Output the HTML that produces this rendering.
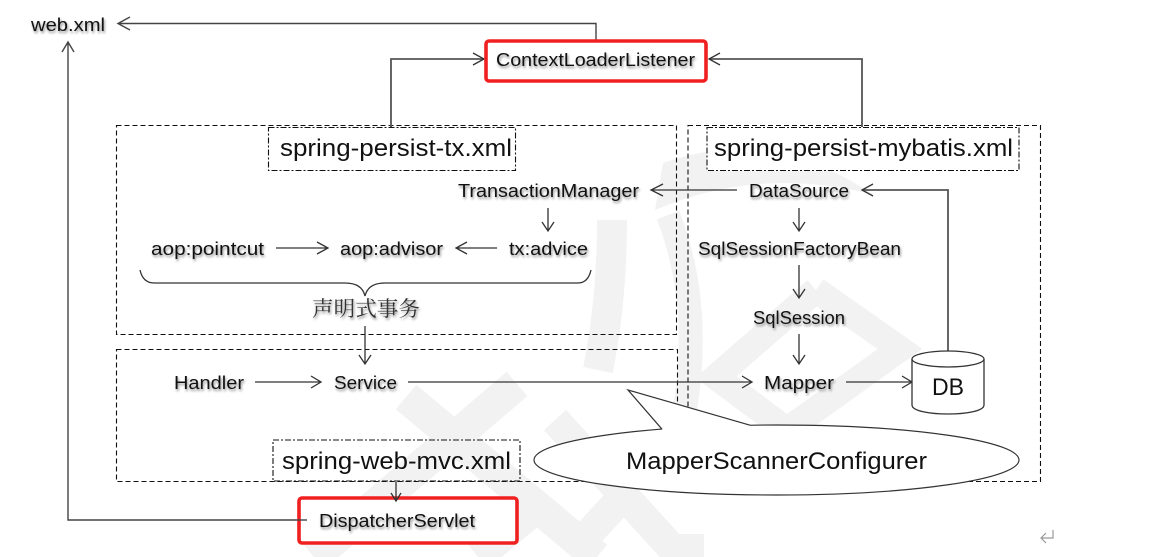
<!DOCTYPE html>
<html><head><meta charset="utf-8"><style>
html,body{margin:0;padding:0;background:#fff;width:1172px;height:557px;overflow:hidden}
svg{display:block}
text{font-family:"Liberation Sans","Noto Sans CJK SC",sans-serif;fill:#111}
.s text{filter:drop-shadow(1px 2px 1.2px rgba(0,0,0,.45))}
.l{fill:none;stroke:#444;stroke-width:1.4}
.g{fill:none;stroke:#555;stroke-width:1.8}
.a{fill:none;stroke:#333;stroke-width:1.3}
.d{fill:none;stroke:#111;stroke-width:1.1;stroke-dasharray:5 3}
.dd{stroke:#111;stroke-width:1.1;stroke-dasharray:6 2 2 2}
.r{fill:#fff;stroke:#f02020;stroke-width:3.6}
.w{fill:none;stroke:#f2f2f2}
</style></head><body>
<svg width="1172" height="557" viewBox="0 0 1172 557" xmlns="http://www.w3.org/2000/svg">
<!-- watermark -->
<path d="M663 163Q770 125 874 195Q760 165 655 210Z" fill="#f2f2f2"/>
<g class="w">
<path d="M816 290L900 349L787 430L716 377L816 290" stroke-width="26"/>
<path d="M668 215Q705 310 682 425" stroke-width="24"/>
<path d="M612 220Q612 300 598 370" stroke-width="30"/>
<path d="M406 397L597 557M517 384L314 557" stroke-width="32"/>
<path d="M555 420L680 557M547 500L478 557" stroke-width="30"/>
<path d="M629 490L580 543" stroke-width="30"/>
<path d="M689 534L689 557" stroke-width="30"/>
</g>
<!-- dashed containers -->
<rect class="d" x="116.5" y="125.5" width="560" height="209"/>
<rect class="d" x="116.5" y="349.5" width="561" height="132"/>
<rect class="d" x="688" y="125.5" width="352.500" height="356"/>
<!-- connectors -->
<path class="l" d="M596 40V23.500H118M130 17L118 23.500L130 30"/>
<path class="g" d="M391 127V59H484"/><path class="a" d="M473 53L484 59L473 65"/>
<path class="g" d="M862 127V59H709"/><path class="a" d="M720 53L709 59L720 65"/>
<path class="l" d="M68 43V520H297M62 52L68 42L74 52"/>
<path class="a" d="M651 190H737M663 184L651 190L663 196"/>
<path class="a" d="M548 208V231M542 222L548 231L554 222"/>
<path class="a" d="M799 208V231M793 222L799 231L805 222"/>
<path class="a" d="M799 265V298M793 289L799 298L805 289"/>
<path class="a" d="M799 334V364M793 355L799 364L805 355"/>
<path class="a" d="M276 248H328M317 242L328 248L317 254"/>
<path class="a" d="M497 248H456M467 242L456 248L467 254"/>
<path class="a" d="M365 326V364M359 355L365 364L371 355"/>
<path class="a" d="M255 382H321M311 376L321 382L311 388"/>
<path class="a" d="M408 382H752M742 376L752 382L742 388"/>
<path class="a" d="M846 382H912M902 376L912 382L902 388"/>
<path class="g" d="M948 351V190H862"/><path class="a" d="M873 184L862 190L873 196"/>
<!-- brace -->
<path class="a" d="M140 270Q143 283 154 283H345Q362 283 365 296Q368 283 385 283H578Q588 283 591 270"/>
<!-- red boxes -->
<rect class="r" x="486" y="41" width="220" height="40" rx="3"/>
<rect class="r" x="299" y="498" width="218" height="45" rx="3"/>
<path class="l" d="M297 520H307"/>
<path class="a" d="M396 482V501M391 493L396 501L401 493"/>
<!-- inner boxes -->
<rect class="dd" x="268.500" y="127.500" width="247" height="43" fill="#fff"/>
<rect class="dd" x="707" y="127.500" width="312" height="43" fill="#fff"/>
<path class="g" d="M391 125V127M862 125V127"/>
<rect class="dd" x="273" y="440" width="247" height="41" fill="none"/>
<!-- callout -->
<ellipse cx="776.500" cy="460" rx="242.500" ry="35" fill="#fff" stroke="#333" stroke-width="1.2"/>
<polygon points="628,390 662.500,429.800 664,431 706,429 748,427 750.500,425.800" fill="#fff"/>
<path d="M662 429.200L628 390L750 425.200" fill="none" stroke="#333" stroke-width="1.2"/>
<!-- cylinder -->
<path d="M912 359V405C912 417 984 417 984 405V359" fill="#fff" stroke="#333" stroke-width="1.3"/>
<ellipse cx="948" cy="359" rx="36" ry="8" fill="#fff" stroke="#333" stroke-width="1.3"/>
<!-- large clean labels -->
<text x="280" y="156" font-size="24" textLength="232" lengthAdjust="spacingAndGlyphs">spring-persist-tx.xml</text>
<text x="714" y="156" font-size="24" textLength="299" lengthAdjust="spacingAndGlyphs">spring-persist-mybatis.xml</text>
<text x="282" y="469" font-size="24" textLength="229" lengthAdjust="spacingAndGlyphs">spring-web-mvc.xml</text>
<text x="626" y="469" font-size="24" textLength="301" lengthAdjust="spacingAndGlyphs">MapperScannerConfigurer</text>
<text x="932" y="395" font-size="24" textLength="32" lengthAdjust="spacingAndGlyphs">DB</text>
<!-- shadowed labels -->
<g class="s" font-size="18">
<text x="31" y="31" textLength="74" lengthAdjust="spacingAndGlyphs">web.xml</text>
<text x="496" y="66" textLength="199" lengthAdjust="spacingAndGlyphs">ContextLoaderListener</text>
<text x="458" y="197" textLength="181" lengthAdjust="spacingAndGlyphs">TransactionManager</text>
<text x="749" y="197" textLength="100" lengthAdjust="spacingAndGlyphs">DataSource</text>
<text x="151" y="255" textLength="113" lengthAdjust="spacingAndGlyphs">aop:pointcut</text>
<text x="340" y="255" textLength="103" lengthAdjust="spacingAndGlyphs">aop:advisor</text>
<text x="509" y="255" textLength="79" lengthAdjust="spacingAndGlyphs">tx:advice</text>
<text x="698" y="255" textLength="203" lengthAdjust="spacingAndGlyphs">SqlSessionFactoryBean</text>
<text x="753" y="324" textLength="92" lengthAdjust="spacingAndGlyphs">SqlSession</text>
<text x="174" y="389" textLength="70" lengthAdjust="spacingAndGlyphs">Handler</text>
<text x="334" y="389" textLength="63" lengthAdjust="spacingAndGlyphs">Service</text>
<text x="764" y="389" textLength="70" lengthAdjust="spacingAndGlyphs">Mapper</text>
<text x="319" y="527" textLength="156" lengthAdjust="spacingAndGlyphs">DispatcherServlet</text>
<text x="312" y="316" font-size="21" style="font-family:'Noto Serif CJK SC','Noto Sans CJK SC',serif;fill:#333" textLength="108" lengthAdjust="spacingAndGlyphs">声明式事务</text>
</g>
<!-- return mark -->
<path d="M1053 530V538H1041M1046 533L1041 538L1046 543" fill="none" stroke="#999" stroke-width="1.2"/>
</svg>
</body></html>
